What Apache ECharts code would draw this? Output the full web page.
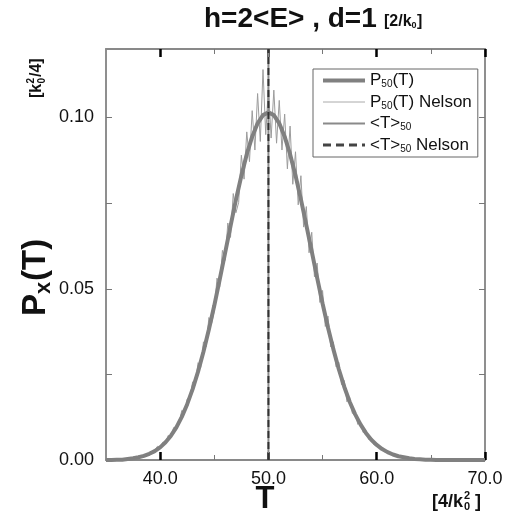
<!DOCTYPE html>
<html><head><meta charset="utf-8">
<script src="https://cdn.jsdelivr.net/npm/echarts@6/dist/echarts.min.js"></script>
<style>html,body{margin:0;padding:0;background:#fff}#c{width:507px;height:518px}</style>
</head><body><div id="c"></div>
<script>
// Smooth distribution P50(T)
const tSmooth = [35,35.5,36,36.5,37,37.5,38,38.5,39,39.5,40,40.5,41,41.5,42,42.5,43,43.5,44,44.5,45,45.5,46,46.5,47,47.5,48,48.5,49,49.5,50,50.5,51,51.5,52,52.5,53,53.5,54,54.5,55,55.5,56,56.5,57,57.5,58,58.5,59,59.5,60,60.5,61,61.5,62,62.5,63,63.5,64,64.5,65,65.5,66,66.5,67,67.5,68,68.5,69,69.5,70];
const pSmooth = [0.0000,0.0000,0.0001,0.0001,0.0003,0.0005,0.0008,0.0012,0.0018,0.0026,0.0037,0.0052,0.0071,0.0095,0.0126,0.0163,0.0207,0.0258,0.0316,0.0381,0.0451,0.0527,0.0605,0.0683,0.0760,0.0830,0.0893,0.0944,0.0983,0.1007,0.1015,0.1007,0.0983,0.0944,0.0893,0.0831,0.0761,0.0686,0.0609,0.0532,0.0457,0.0387,0.0323,0.0265,0.0214,0.0170,0.0134,0.0104,0.0079,0.0059,0.0044,0.0032,0.0023,0.0016,0.0011,0.0008,0.0005,0.0003,0.0002,0.0001,0.0001,0,0,0,0,0,0,0,0,0,0];
// Nelson (noisy) distribution
const tNelson = [35,35.25,35.5,35.75,36,36.25,36.5,36.75,37,37.25,37.5,37.75,38,38.25,38.5,38.75,39,39.25,39.5,39.75,40,40.25,40.5,40.75,41,41.25,41.5,41.75,42,42.25,42.5,42.75,43,43.25,43.5,43.75,44,44.25,44.5,44.75,45,45.25,45.5,45.75,46,46.25,46.5,46.75,47,47.25,47.5,47.75,48,48.25,48.5,48.75,49,49.25,49.5,49.75,50,50.25,50.5,50.75,51,51.25,51.5,51.75,52,52.25,52.5,52.75,53,53.25,53.5,53.75,54,54.25,54.5,54.75,55,55.25,55.5,55.75,56,56.25,56.5,56.75,57,57.25,57.5,57.75,58,58.25,58.5,58.75,59,59.25,59.5,59.75,60,60.25,60.5,60.75,61,61.25,61.5,61.75,62,62.25,62.5,62.75,63,63.25,63.5,63.75,64,64.25,64.5,64.75,65,65.25,65.5,65.75,66,66.25,66.5,66.75,67,67.25,67.5,67.75,68,68.25,68.5,68.75,69,69.25,69.5,69.75,70];
const pNelson = [0.0001,0.0000,0.0001,0.0002,0.0001,0.0002,0.0002,0.0003,0.0005,0.0004,0.0007,0.0006,0.0011,0.0009,0.0016,0.0013,0.0019,0.0026,0.0028,0.0040,0.0036,0.0052,0.0051,0.0072,0.0070,0.0095,0.0094,0.0108,0.0145,0.0139,0.0178,0.0181,0.0228,0.0222,0.0284,0.0271,0.0345,0.0330,0.0416,0.0398,0.0436,0.0531,0.0505,0.0612,0.0583,0.0692,0.0650,0.0778,0.0722,0.0752,0.0890,0.0820,0.0958,0.0871,0.1020,0.0905,0.1070,0.0930,0.1140,0.0950,0.1090,0.0940,0.1080,0.0925,0.1050,0.0905,0.1010,0.0850,0.0975,0.0805,0.0900,0.0745,0.0830,0.0680,0.0740,0.0605,0.0665,0.0535,0.0575,0.0460,0.0495,0.0390,0.0420,0.0330,0.0345,0.0272,0.0285,0.0220,0.0232,0.0170,0.0183,0.0136,0.0143,0.0104,0.0112,0.0080,0.0085,0.0060,0.0063,0.0044,0.0047,0.0033,0.0036,0.0024,0.0027,0.0017,0.0019,0.0011,0.0014,0.0008,0.0010,0.0005,0.0007,0.0003,0.0004,0.0002,0.0003,0.0001,0.0002,0.0001,0.0001,0.0000,0.0001,0,0,0,0,0,0,0,0,0,0,0,0,0,0,0,0,0,0,0];
// Mean values
const meanT = 50.0;
const meanTNelson = 50.0;
// Axis ticks
const xMajor = [40,50,60,70];
const xMinor = [45,55,65];
const yTicks = [0,0.025,0.05,0.075,0.1];
const yLabels = [0,0.05,0.1];

const FONT = 'Liberation Sans, Arial, Helvetica, sans-serif';
const zip = (a,b) => a.map((v,i)=>[v,b[i]]);
const txt = (x,y,text,size,extra) => Object.assign({type:'text', x:x, y:y, style:{
  text:text, font:'bold '+size+'px '+FONT, fill:'#111', align:'left', verticalAlign:'middle'}}, extra||{});

const chart = echarts.init(document.getElementById('c'), null, {renderer:'canvas'});
const baseX = {type:'value', min:35, max:70, interval:5, gridIndex:0,
  axisLine:{show:true, lineStyle:{color:'#888', width:1.5}}, splitLine:{show:false}};
const subRich = {
  n:{fontSize:17, color:'#111', fontFamily:FONT, lineHeight:18},
  s:{fontSize:10, color:'#111', fontFamily:FONT, verticalAlign:'bottom', lineHeight:18, padding:[7,0,0,0]}
};
const legendNames = {
  'P50(T)':'{n|P}{s|50}{n|(T)}',
  'P50(T) Nelson':'{n|P}{s|50}{n|(T) Nelson}',
  '<T>50':'{n|<T>}{s|50}',
  '<T>50 Nelson':'{n|<T>}{s|50}{n| Nelson}'
};
chart.setOption({
  animation:false,
  backgroundColor:'#fff',
  grid:{left:106, right:22, top:49, bottom:58, show:true, borderColor:'#888', borderWidth:1.5},
  legend:{
    data:[
      {name:'P50(T)', lineStyle:{color:'#808080', width:4}},
      {name:'P50(T) Nelson', lineStyle:{color:'#aaaaaa', width:1}},
      {name:'<T>50', lineStyle:{color:'#8a8a8a', width:2}},
      {name:'<T>50 Nelson', lineStyle:{color:'#444', width:3, type:[8,5]}}
    ],
    orient:'vertical', left:313, top:69, itemWidth:42, itemHeight:14, itemGap:4,
    padding:[3,6,3,8], borderColor:'#666', borderWidth:1, backgroundColor:'#fff',
    formatter:n=>legendNames[n], textStyle:{rich:subRich, fontFamily:FONT, fontSize:17},
    itemStyle:{opacity:0}
  },
  xAxis:[
    Object.assign({}, baseX, {position:'bottom',
      axisTick:{show:true, inside:true, length:8, customValues:xMajor, lineStyle:{color:'#000', width:2.5}},
      axisLabel:{show:true, customValues:xMajor, formatter:v=>v.toFixed(1), color:'#111', fontSize:18, fontFamily:FONT, margin:10}}),
    Object.assign({}, baseX, {position:'bottom',
      axisTick:{show:true, inside:true, length:5, customValues:xMinor, lineStyle:{color:'#777', width:1}},
      axisLabel:{show:false}}),
    Object.assign({}, baseX, {position:'top',
      axisTick:{show:true, inside:true, length:8, customValues:xMajor, lineStyle:{color:'#000', width:2.5}},
      axisLabel:{show:false}}),
    Object.assign({}, baseX, {position:'top',
      axisTick:{show:true, inside:true, length:5, customValues:xMinor, lineStyle:{color:'#777', width:1}},
      axisLabel:{show:false}})
  ],
  yAxis:[
    {type:'value', min:0, max:0.12, position:'left', splitLine:{show:false},
      axisLine:{show:true, lineStyle:{color:'#888', width:1.5}},
      axisTick:{show:true, inside:true, length:6, customValues:yTicks, lineStyle:{color:'#777', width:1}},
      axisLabel:{show:true, customValues:yLabels, formatter:v=>v.toFixed(2), color:'#111', fontSize:18, fontFamily:FONT, margin:12}},
    {type:'value', min:0, max:0.12, position:'right', splitLine:{show:false},
      axisLine:{show:true, lineStyle:{color:'#888', width:1.5}},
      axisTick:{show:true, inside:true, length:6, customValues:yTicks, lineStyle:{color:'#777', width:1}},
      axisLabel:{show:false}}
  ],
  series:[
    {name:'P50(T) Nelson', type:'line', data:zip(tNelson,pNelson), symbol:'none', z:2,
      lineStyle:{color:'#9c9c9c', width:1}, itemStyle:{color:'#9c9c9c'}},
    {name:'P50(T)', type:'line', data:zip(tSmooth,pSmooth), symbol:'none', z:3,
      lineStyle:{color:'#808080', width:4}, itemStyle:{color:'#808080'}},
    {name:'<T>50', type:'line', data:[[meanT,0],[meanT,0.12]], symbol:'none', z:4,
      lineStyle:{color:'#8a8a8a', width:2}, itemStyle:{color:'#8a8a8a'}},
    {name:'<T>50 Nelson', type:'line', data:[[meanTNelson,0],[meanTNelson,0.12]], symbol:'none', z:5,
      lineStyle:{color:'#333', width:2, type:[7,4]}, itemStyle:{color:'#333'}}
  ],
  graphic:[
    // Title
    txt(204, 19, 'h=2<E> , d=1', 28),
    txt(384, 22, '[2/k', 16),
    txt(411.5, 26, '0', 9),
    txt(417, 22, ']', 16),
    // Y axis name (rotated, reading upward)
    {type:'group', x:36, y:258, rotation:Math.PI/2, children:[
      txt(-58, 0, 'P', 33),
      txt(-36, 8, 'x', 22),
      txt(-23, 0, '(T)', 33)
    ]},
    // Y unit [k0^2/4]
    {type:'group', x:37, y:77, rotation:Math.PI/2, children:[
      txt(-21, 0, '[k', 16),
      txt(-6.5, -6, '2', 10),
      txt(-6.5, 5, '0', 10),
      txt(0, 0, '/4]', 16)
    ]},
    // X axis name
    {type:'text', x:265, y:499, style:{text:'T', align:'center', verticalAlign:'middle',
      font:'bold 31px '+FONT, fill:'#111'}},
    // X unit [4/k0^2]
    txt(432, 502, '[4/k', 18),
    txt(464, 496, '2', 11),
    txt(464, 507, '0', 11),
    txt(475, 502, ']', 18)
  ]
});
</script></body></html>
